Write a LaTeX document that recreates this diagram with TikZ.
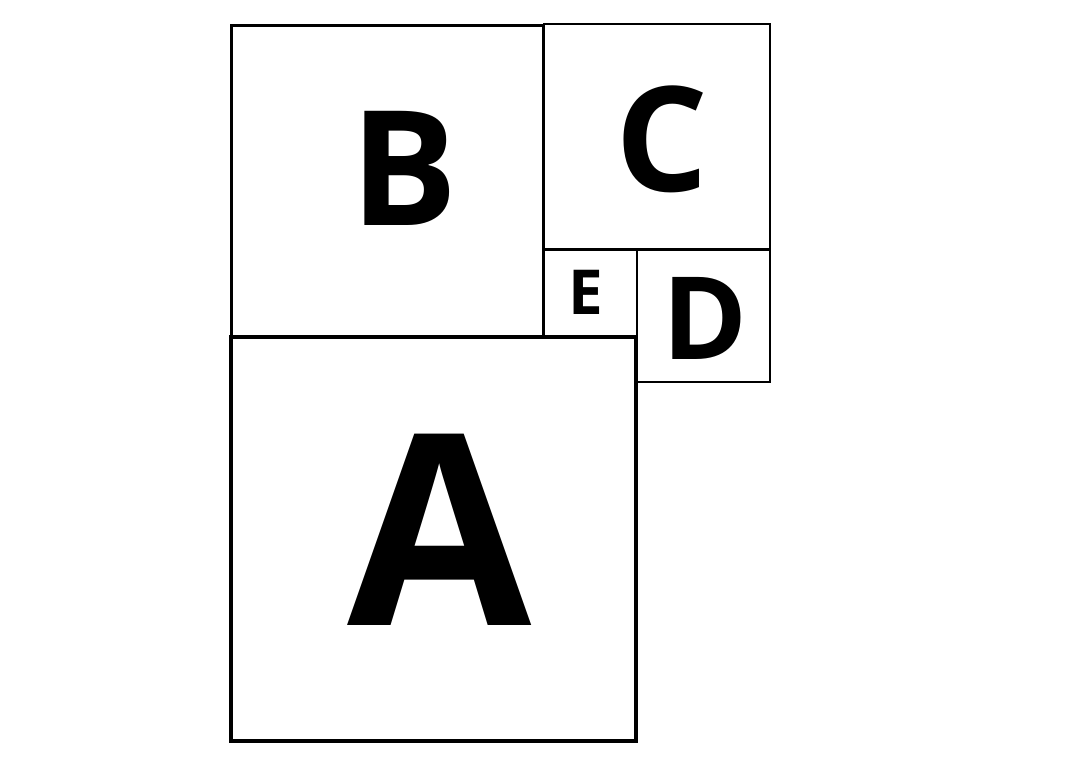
\documentclass[tikz,border=0pt]{standalone}
\usepackage{fontspec}
\setmainfont{Open Sans}
\begin{document}
\begin{tikzpicture}[x=1pt,y=-1pt,
  sq/.style={draw=black,rectangle,inner sep=0pt,fill=none},
  lett/.style={inner sep=0pt,anchor=base,font=\bfseries}]
\useasboundingbox (0,0) rectangle (1080,772);
\node[sq,line width=3pt,minimum width=312pt,minimum height=311pt] (boxB) at (387,180.5) {};
\node[sq,line width=2.5pt,minimum width=226pt,minimum height=225pt] (boxC) at (657,136.5) {};
\node[sq,line width=1.5pt,minimum width=133pt,minimum height=132pt] (boxD) at (703.5,316) {};
\node[sq,line width=1.5pt,minimum width=94pt,minimum height=86pt] (boxE) at (590,293) {};
\node[sq,line width=4pt,minimum width=405pt,minimum height=404pt] (boxA) at (433.5,539) {};
\node[lett,font=\bfseries\fontsize{267}{267}\selectfont] (lA) at (440,625) {A};
\node[lett,font=\bfseries\fontsize{160}{160}\selectfont] (lB) at (404,225) {B};
\node[lett,font=\bfseries\fontsize{146}{146}\selectfont] (lC) at (662,191) {C};
\node[lett,font=\bfseries\fontsize{115}{115}\selectfont] (lD) at (705,359) {D};
\node[lett,font=\bfseries\fontsize{62}{62}\selectfont] (lE) at (586,314) {E};
\end{tikzpicture}
\end{document}
